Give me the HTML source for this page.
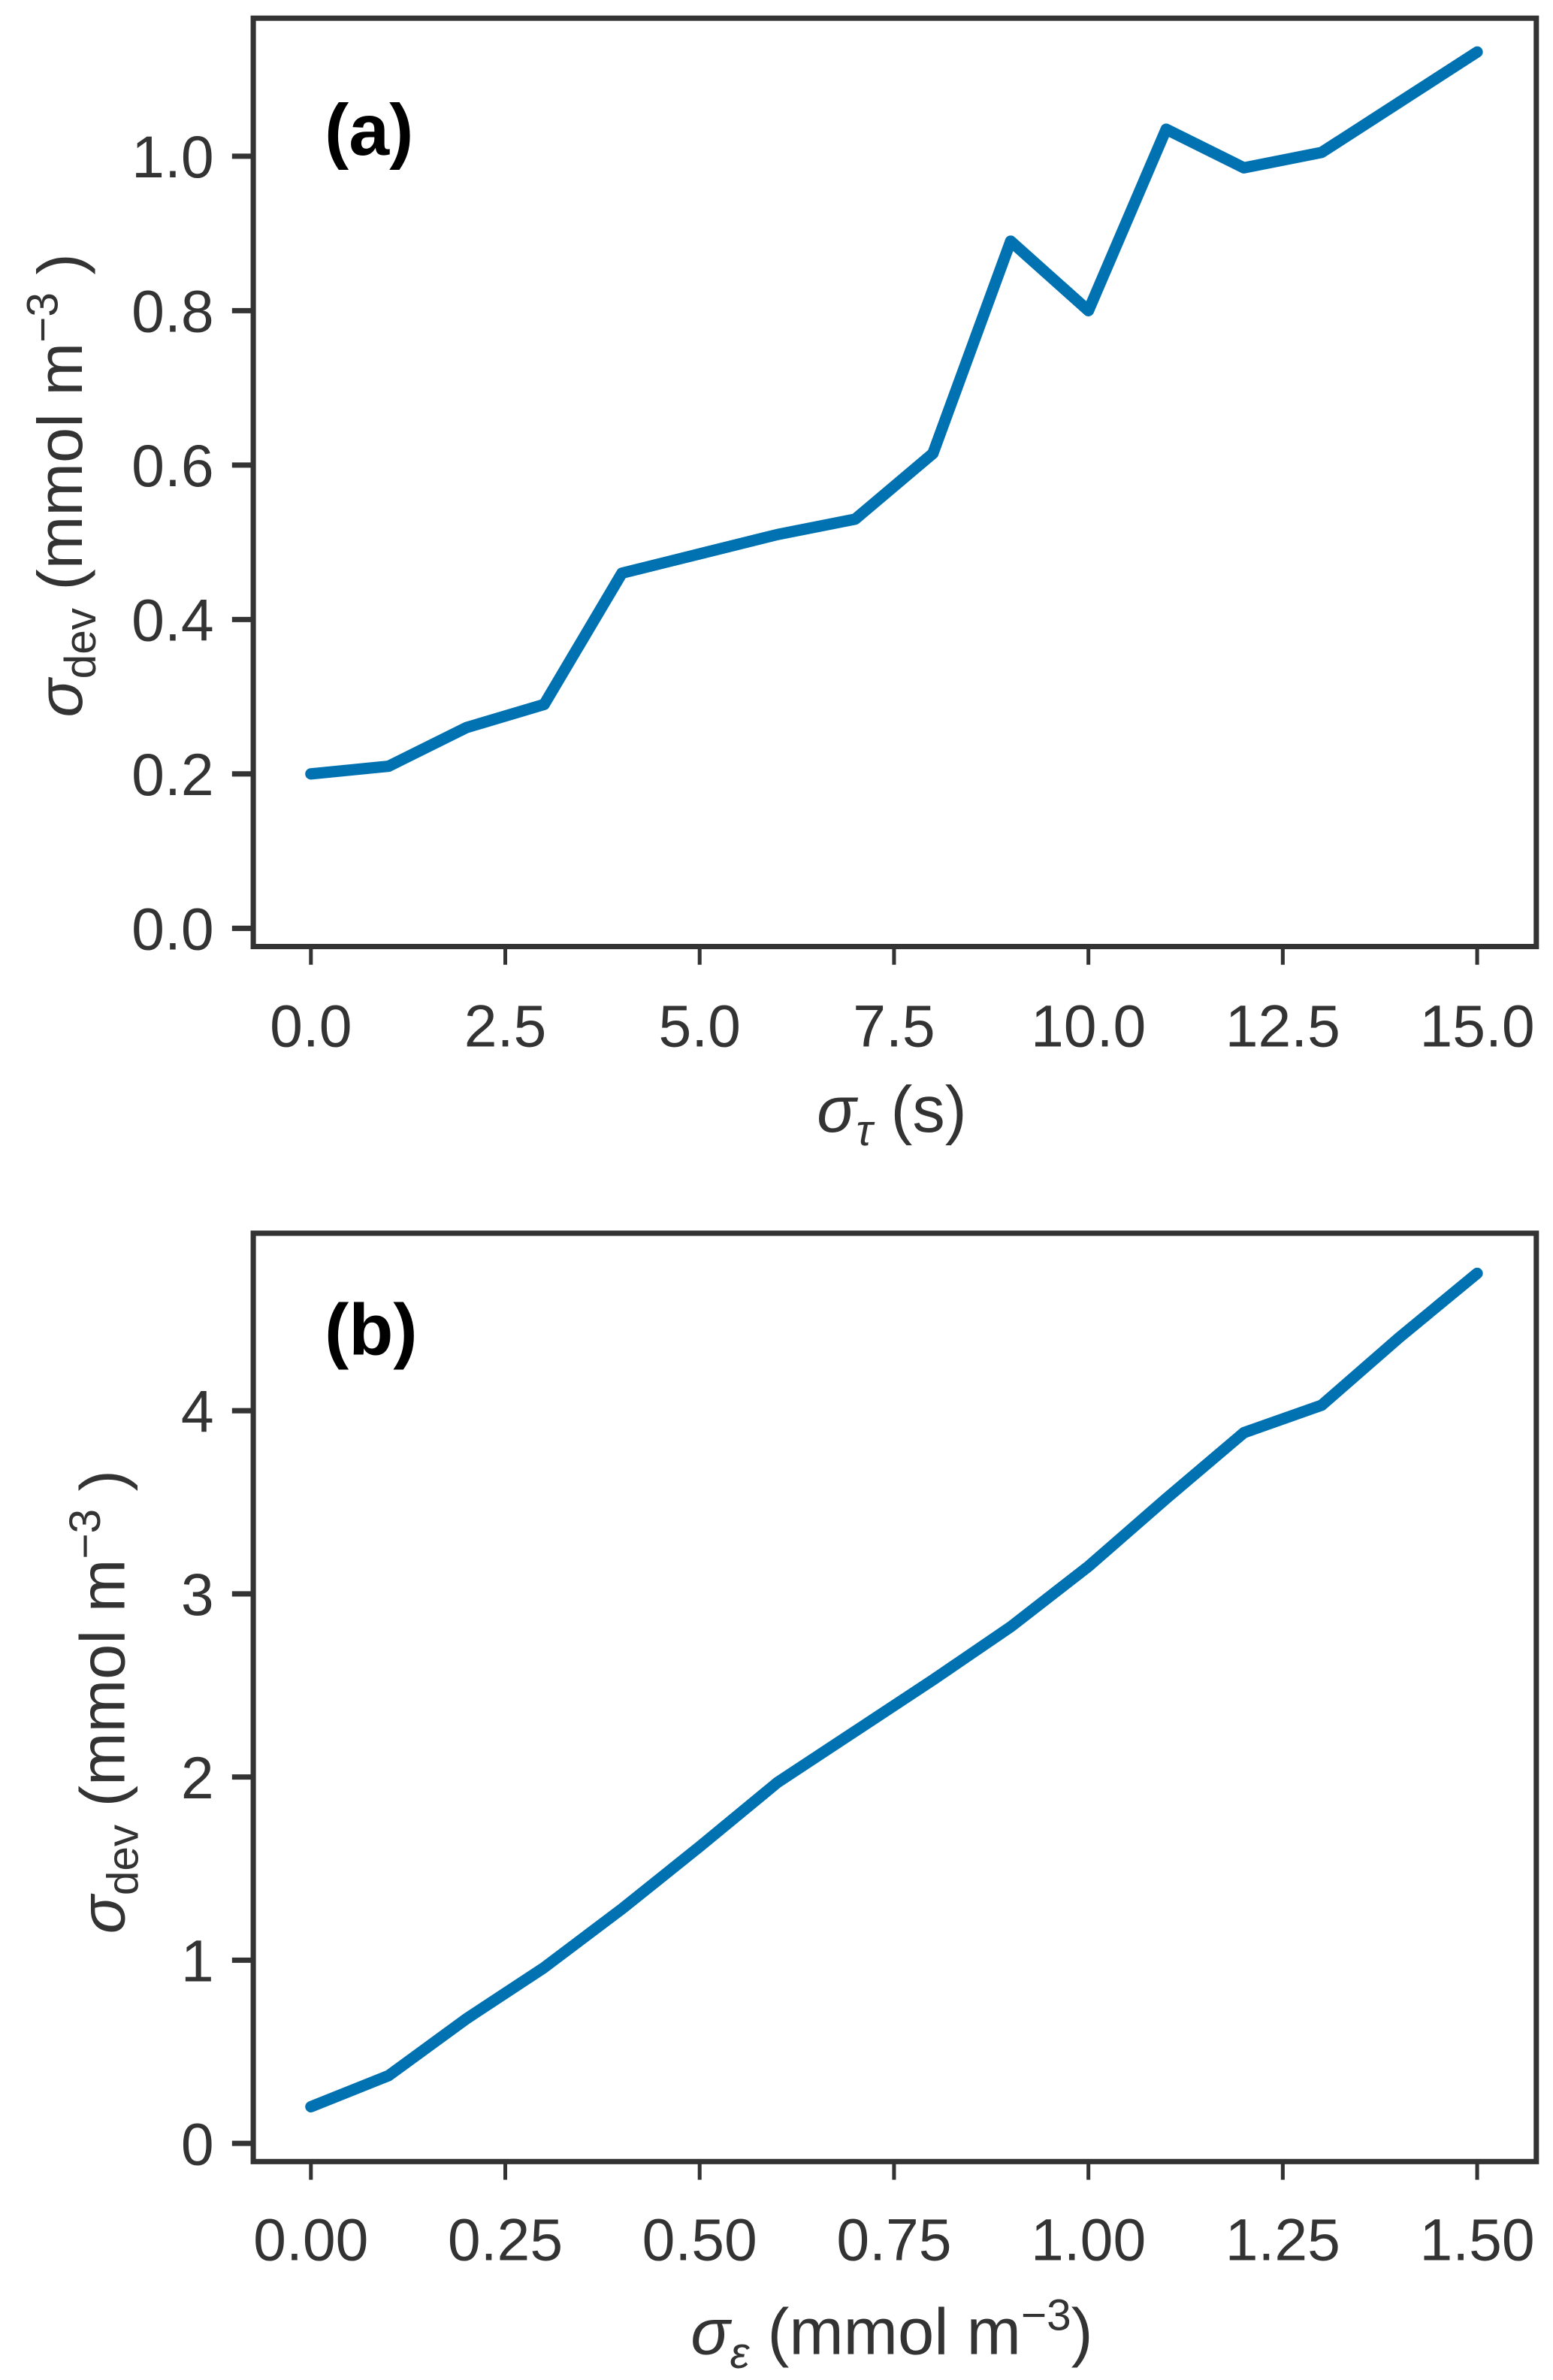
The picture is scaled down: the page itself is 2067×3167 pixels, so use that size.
<!DOCTYPE html>
<html><head><meta charset="utf-8"><style>
html,body{margin:0;padding:0;background:#fff;}
svg{display:block;}
text{font-family:"Liberation Sans",sans-serif;fill:#333;}
text.tag{fill:#000;}
</style></head>
<body>
<svg id="fig" width="2067" height="3167" viewBox="0 0 1024 1569" preserveAspectRatio="none" xmlns="http://www.w3.org/2000/svg">
<rect x="0" y="0" width="1024" height="1569" fill="#fff"/>
<g id="pa"></g>
<g id="pb"></g>
</svg>
<script>
// Panel (a) data
const aX = [0,1,2,3,4,5,6,7,8,9,10,11,12,13,14,15];
const aY = [0.2,0.21,0.26,0.29,0.46,0.485,0.51,0.53,0.615,0.89,0.80,1.035,0.985,1.005,1.07,1.135];
const aXTicks = [0,2.5,5,7.5,10,12.5,15];
const aXTickLabels = ["0.0","2.5","5.0","7.5","10.0","12.5","15.0"];
const aYTicks = [0,0.2,0.4,0.6,0.8,1.0];
const aYTickLabels = ["0.0","0.2","0.4","0.6","0.8","1.0"];
// Panel (b) data
const bX = [0,0.1,0.2,0.3,0.4,0.5,0.6,0.7,0.8,0.9,1.0,1.1,1.2,1.3,1.4,1.5];
const bY = [0.2,0.37,0.68,0.96,1.28,1.62,1.97,2.25,2.53,2.82,3.15,3.52,3.88,4.03,4.40,4.75];
const bXTicks = [0,0.25,0.5,0.75,1.0,1.25,1.5];
const bXTickLabels = ["0.00","0.25","0.50","0.75","1.00","1.25","1.50"];
const bYTicks = [0,1,2,3,4];
const bYTickLabels = ["0","1","2","3","4"];

const NS="http://www.w3.org/2000/svg";
function mk(parent,tag,attrs){const e=document.createElementNS(NS,tag);for(const k in attrs)e.setAttribute(k,attrs[k]);parent.appendChild(e);return e;}

function drawPanel(g,cfg){
  const {left,right,top,bottom,x0,x1,px0,px1,y0,y1,py0,py1}=cfg;
  const sx=v=>px0+(v-x0)*(px1-px0)/(x1-x0);
  const sy=v=>py0+(v-y0)*(py1-py0)/(y1-y0);
  cfg.xt.forEach((t,i)=>{
    const l=mk(g,'line',{x1:sx(t),x2:sx(t),y1:bottom,y2:bottom+12,stroke:'#333','stroke-width':2.5});
    
    
    const tx=mk(g,'text',{x:sx(t),y:cfg.xlabY,'font-size':39,'text-anchor':'middle',textLength:0});
    tx.removeAttribute('textLength');
    tx.textContent=cfg.xtl[i];
    
    
  });
  cfg.yt.forEach((t,i)=>{
    const l=mk(g,'line',{x1:left-14,x2:left,y1:sy(t),y2:sy(t),stroke:'#333','stroke-width':3.5});
    
    
    const tx=mk(g,'text',{x:left-26,y:sy(t)+14,'font-size':39,'text-anchor':'end'});
    tx.textContent=cfg.ytl[i];
    
    
  });
  const pts=cfg.xs.map((v,i)=>sx(v).toFixed(2)+','+sy(cfg.ys[i]).toFixed(2)).join(' ');
  const pl=mk(g,'polyline',{points:pts,fill:'none',stroke:'#0072b2','stroke-width':7.5,'stroke-linejoin':'round','stroke-linecap':'round'});
  
  
  const fr=mk(g,'rect',{x:left,y:top,width:right-left,height:bottom-top,fill:'none',stroke:'#333','stroke-width':3.5});
  
  
  const pl2=mk(g,'text',{x:214,y:cfg.tagY,'font-size':48,'font-weight':'bold',class:'tag'});
  pl2.textContent=cfg.tag;
  
  
}

const ga=document.getElementById('pa');
drawPanel(ga,{left:167,right:1013,top:12,bottom:624,x0:0,x1:15,px0:205,px1:974,y0:0,y1:1.0,py0:612,py1:103,
  xt:aXTicks,xtl:aXTickLabels,yt:aYTicks,ytl:aYTickLabels,xs:aX,ys:aY,xlabY:690,tag:'(a)',tagY:102});
const gb=document.getElementById('pb');
drawPanel(gb,{left:167,right:1013,top:813,bottom:1425,x0:0,x1:1.5,px0:205,px1:974,y0:0,y1:4,py0:1413,py1:930,
  xt:bXTicks,xtl:bXTickLabels,yt:bYTicks,ytl:bYTickLabels,xs:bX,ys:bY,xlabY:1490,tag:'(b)',tagY:893});
</script>
<svg style="position:absolute;left:0;top:0" width="2067" height="3167" viewBox="0 0 1024 1569" preserveAspectRatio="none">
<text x="588" y="746" font-size="43" text-anchor="middle" style="font-family:'Liberation Sans',sans-serif;fill:#333"><tspan font-style="italic">σ</tspan><tspan font-style="italic" font-size="29" dy="9">τ</tspan><tspan dy="-9"> (s)</tspan></text>
<text transform="translate(54,320) rotate(-90)" font-size="42" text-anchor="middle" style="font-family:'Liberation Sans',sans-serif;fill:#333"><tspan font-style="italic">σ</tspan><tspan font-size="29" dy="9">dev</tspan><tspan dy="-9">  (mmol m</tspan><tspan font-size="29" dy="-16">−3</tspan><tspan dy="16"> )</tspan></text>
<text x="588" y="1552" font-size="43" text-anchor="middle" style="font-family:'Liberation Sans',sans-serif;fill:#333"><tspan font-style="italic">σ</tspan><tspan font-style="italic" font-size="29" dy="9">ε</tspan><tspan dy="-9"> (mmol m</tspan><tspan font-size="29" dy="-16">−3</tspan><tspan dy="16">)</tspan></text>
<text transform="translate(82,1122) rotate(-90)" font-size="42" text-anchor="middle" style="font-family:'Liberation Sans',sans-serif;fill:#333"><tspan font-style="italic">σ</tspan><tspan font-size="29" dy="9">dev</tspan><tspan dy="-9">  (mmol m</tspan><tspan font-size="29" dy="-16">−3</tspan><tspan dy="16"> )</tspan></text>
</svg>
</body></html>
